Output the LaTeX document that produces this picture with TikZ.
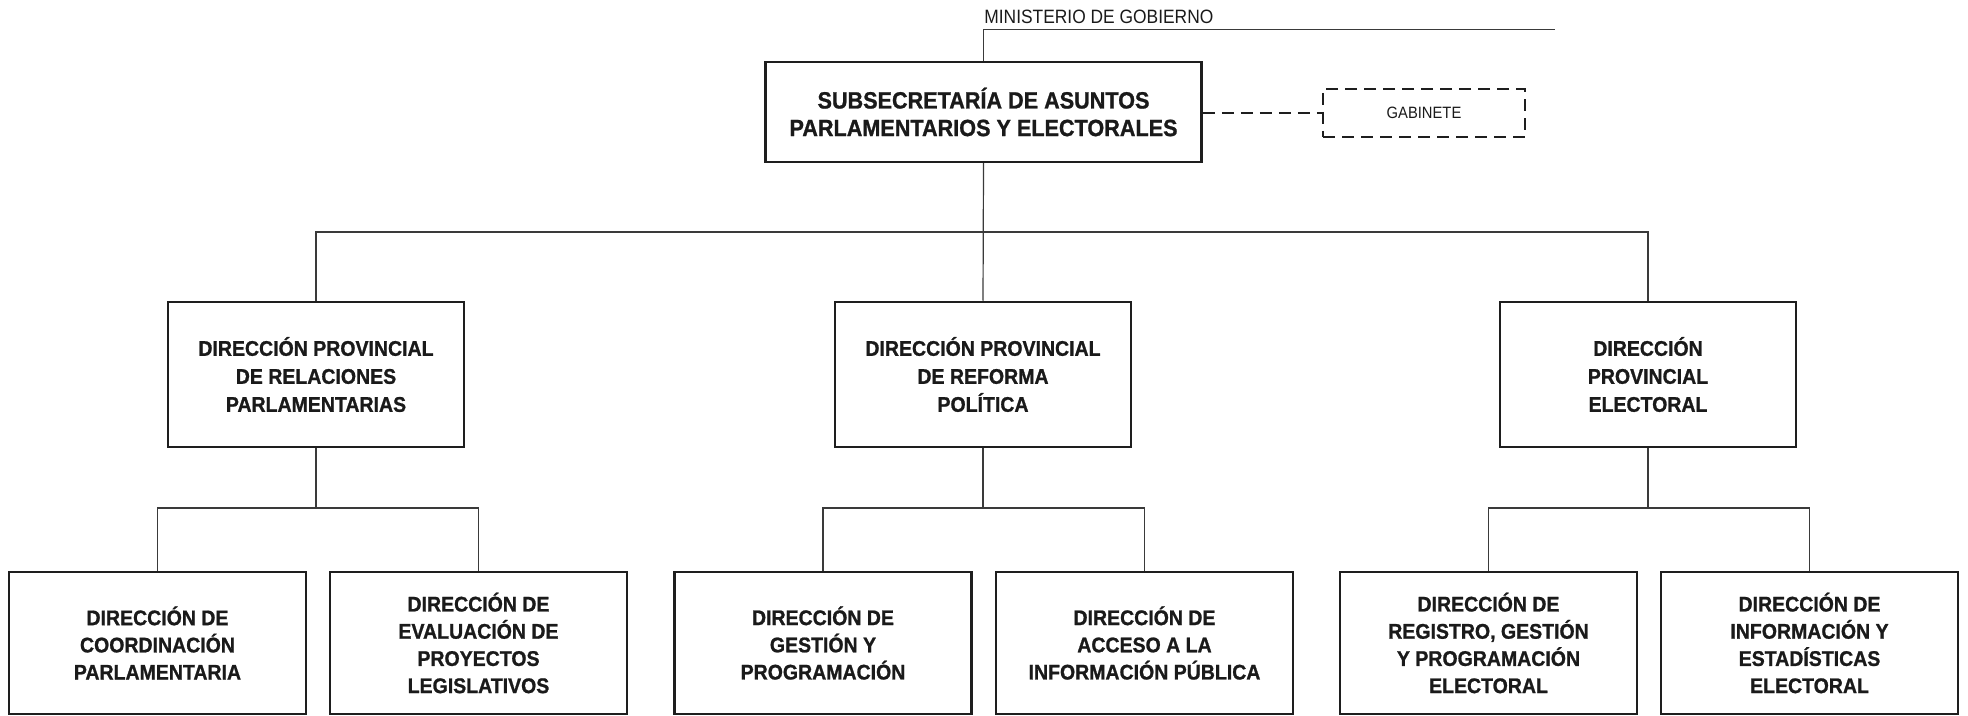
\documentclass[tikz,border=0pt]{standalone}
\usepackage{fontspec}
\setmainfont{Liberation Sans}
\newfontfamily\boldnarrow[FakeStretch=0.92,FakeBold=1]{Liberation Sans}
\newfontfamily\regnarrow[FakeStretch=0.9]{Liberation Sans}
\definecolor{boxline}{HTML}{1E1E1E}
\definecolor{conline}{HTML}{3A3A3A}
\definecolor{txt}{HTML}{1A1A1A}
\tikzset{
  basebox/.style={draw=boxline, line width=1.25pt, fill=white, rectangle, inner sep=0pt, align=center, text=txt},
  topbox/.style={basebox, minimum width=218pt, minimum height=50pt, font=\boldnarrow\bfseries\fontsize{11.75}{13.8}\selectfont},
  lvtwo/.style={basebox, minimum width=148pt, minimum height=72.5pt, font=\boldnarrow\bfseries\fontsize{10.6}{14}\selectfont},
  lvthree/.style={basebox, minimum width=148.5pt, minimum height=71pt, font=\boldnarrow\bfseries\fontsize{10.6}{13.6}\selectfont},
  gabbox/.style={basebox, dash pattern=on 6pt off 3.5pt, minimum width=101pt, minimum height=24pt, font=\regnarrow\fontsize{8.2}{10}\selectfont},
  conn/.style={draw=conline, line width=0.6pt},
  dconn/.style={draw=boxline, line width=1.25pt, dash pattern=on 6pt off 3.5pt},
}
\begin{document}
\begin{tikzpicture}[x=0.5pt,y=-0.5pt]
\useasboundingbox (0,0) rectangle (1968,716);
% top
\node[anchor=base west, inner sep=0pt, text=txt, font=\regnarrow\fontsize{9.66}{11}\selectfont] (min) at (984,23.3) {MINISTERIO DE GOBIERNO};
\coordinate (minend) at (1555,29.5);
\node[topbox] (top) at (983.5,112) {SUBSECRETARÍA DE ASUNTOS\\PARLAMENTARIOS Y ELECTORALES};
\node[gabbox] (gab) at (1424,113) {GABINETE};
\draw[conn] (top.north) -- (top.north |- minend) -- (minend);
\draw[dconn] (top.east |- gab.west) -- (gab.west);
% level 2
\node[lvtwo] (dpa) at (316,374.5) {DIRECCIÓN PROVINCIAL\\DE RELACIONES\\PARLAMENTARIAS};
\node[lvtwo] (dpb) at (983,374.5) {DIRECCIÓN PROVINCIAL\\DE REFORMA\\POLÍTICA};
\node[lvtwo] (dpc) at (1648,374.5) {DIRECCIÓN\\PROVINCIAL\\ELECTORAL};
\coordinate (bus1) at (983,232);
\draw[conn] (top.south) -- (dpb.north);
\draw[conn] (dpa.north) -- (dpa.north |- bus1) -- (dpc.north |- bus1) -- (dpc.north);
% level 3
\node[lvthree] (d1) at (157.5,643) {DIRECCIÓN DE\\COORDINACIÓN\\PARLAMENTARIA};
\node[lvthree] (d2) at (478.5,643) {DIRECCIÓN DE\\EVALUACIÓN DE\\PROYECTOS\\LEGISLATIVOS};
\node[lvthree] (d3) at (823,643) {DIRECCIÓN DE\\GESTIÓN Y\\PROGRAMACIÓN};
\node[lvthree] (d4) at (1144.5,643) {DIRECCIÓN DE\\ACCESO A LA\\INFORMACIÓN PÚBLICA};
\node[lvthree] (d5) at (1488.5,643) {DIRECCIÓN DE\\REGISTRO, GESTIÓN\\Y PROGRAMACIÓN\\ELECTORAL};
\node[lvthree] (d6) at (1809.5,643) {DIRECCIÓN DE\\INFORMACIÓN Y\\ESTADÍSTICAS\\ELECTORAL};
\coordinate (bus2) at (0,508);
\foreach \p/\a/\b in {dpa/d1/d2, dpb/d3/d4, dpc/d5/d6}{
  \draw[conn] (\p.south) -- (\p.south |- bus2);
  \draw[conn] (\a.north) -- (\a.north |- bus2) -- (\b.north |- bus2) -- (\b.north);
}
\end{tikzpicture}
\end{document}
